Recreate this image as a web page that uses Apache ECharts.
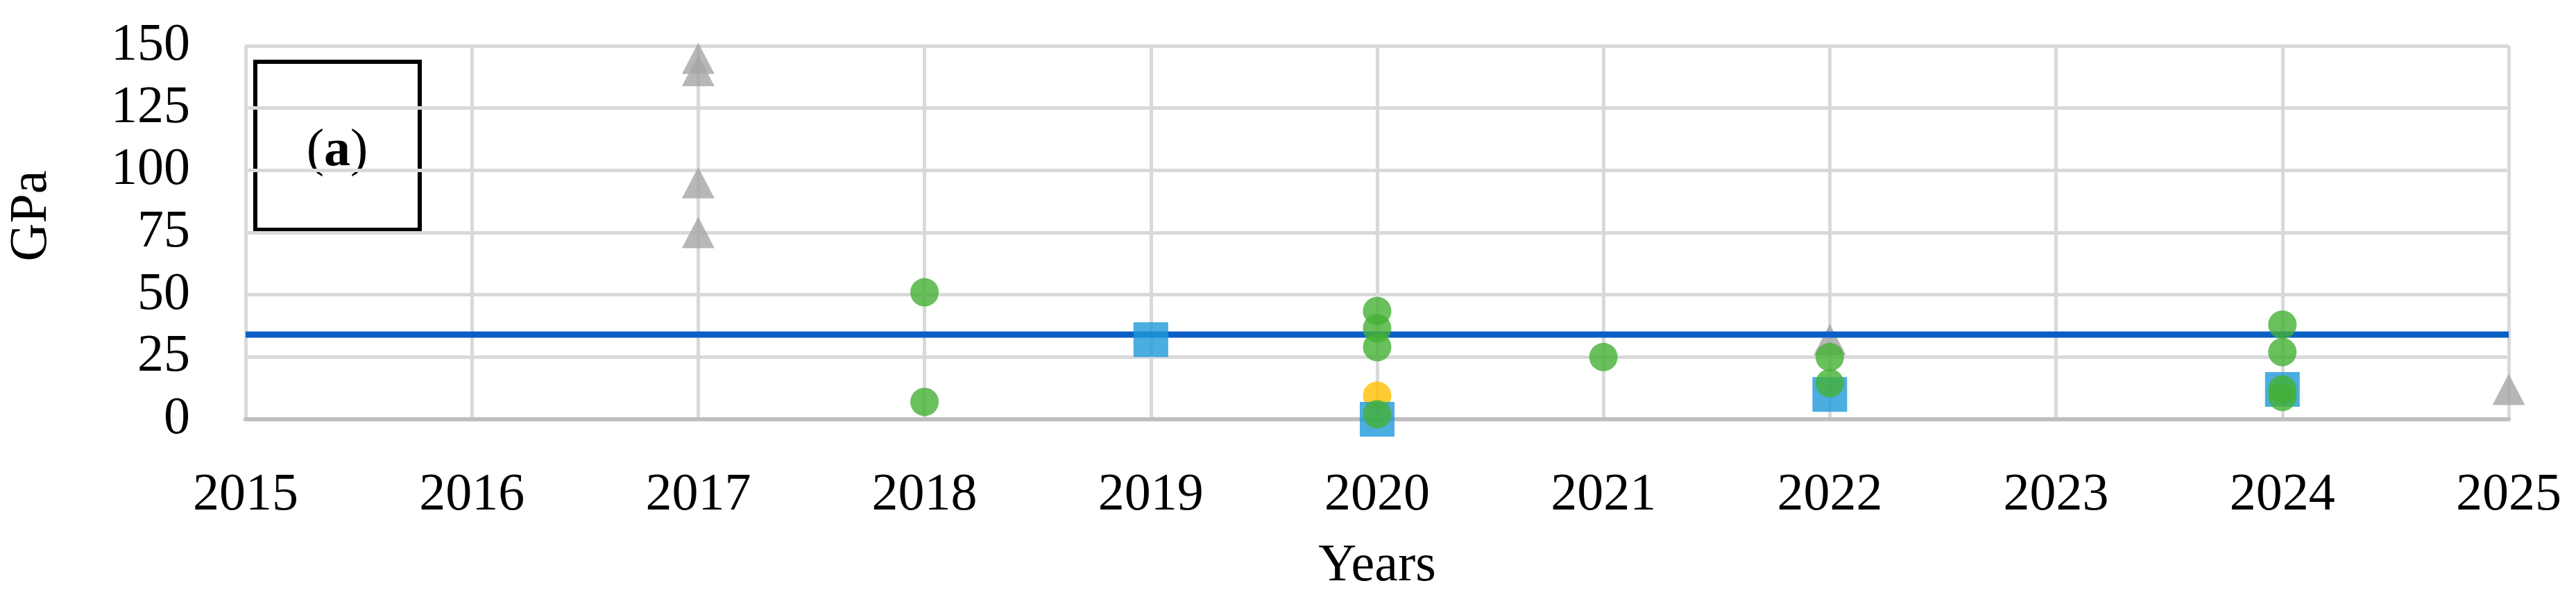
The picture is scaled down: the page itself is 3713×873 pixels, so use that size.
<!DOCTYPE html>
<html>
<head>
<meta charset="utf-8">
<script src="https://cdn.jsdelivr.net/npm/echarts@6/dist/echarts.min.js"></script>
<style>
  html, body { margin: 0; padding: 0; background: #ffffff; }
  #chart { width: 3713px; height: 873px; }
</style>
</head>
<body>
<div id="chart"></div>
<script>
// ---- data ----
var xTicks = [2015, 2016, 2017, 2018, 2019, 2020, 2021, 2022, 2023, 2024, 2025];
var yTicks = [0, 25, 50, 75, 100, 125, 150];

var triangleYears  = [2017, 2017, 2017, 2017, 2022, 2025];
var triangleValues = [145, 140, 95, 75, 32, 12];

var greenYears  = [2018, 2018, 2020, 2020, 2020, 2020, 2021, 2022, 2022, 2024, 2024, 2024, 2024];
var greenValues = [51, 7, 43.5, 36.5, 29, 2, 25, 25, 14.5, 38, 27, 12, 9];

var yellowYears  = [2020];
var yellowValues = [9.5];

var squareYears  = [2019, 2020, 2022, 2024];
var squareValues = [32, 0, 10, 12];

var refLineYears  = [2015, 2025];
var refLineValues = [34, 34];

function pairs(xs, ys) { return xs.map(function (x, i) { return [x, ys[i]]; }); }

var FONT = 'Liberation Serif';

var chart = echarts.init(document.getElementById('chart'), null, { renderer: 'canvas' });
chart.setOption({
  animation: false,
  backgroundColor: '#ffffff',
  grid: { left: 350, right: 97, top: 66, bottom: 269, containLabel: false },
  xAxis: {
    type: 'value',
    min: xTicks[0],
    max: xTicks[xTicks.length - 1],
    interval: 1,
    name: 'Years',
    nameLocation: 'middle',
    nameGap: 174,
    nameTextStyle: { fontFamily: FONT, fontSize: 76, color: '#000000' },
    axisLine: { show: true, lineStyle: { color: '#bfbfbf', width: 6 } },
    axisTick: { show: false },
    axisLabel: { margin: 72, fontFamily: FONT, fontSize: 76, color: '#000000', formatter: function (v) { return String(v); } },
    splitLine: { show: true, lineStyle: { color: '#d9d9d9', width: 5 } }
  },
  yAxis: {
    type: 'value',
    min: yTicks[0],
    max: yTicks[yTicks.length - 1],
    interval: 25,
    name: 'GPa',
    nameLocation: 'middle',
    nameGap: 270,
    nameTextStyle: { fontFamily: FONT, fontSize: 76, color: '#000000', padding: [0, 0, 0, 48] },
    axisLine: { show: false },
    axisTick: { show: false },
    axisLabel: { margin: 80, fontFamily: FONT, fontSize: 76, color: '#000000' },
    splitLine: { show: true, lineStyle: { color: '#d9d9d9', width: 5 } }
  },
  series: [
    {
      type: 'scatter', name: 'triangles', z: 2,
      symbol: 'triangle', symbolSize: [47, 45],
      itemStyle: { color: '#a5a5a5' },
      data: pairs(triangleYears, triangleValues)
    },
    {
      type: 'line', name: 'reference', z: 3,
      showSymbol: false, symbol: 'none',
      lineStyle: { color: '#0a5fc6', width: 9 },
      data: pairs(refLineYears, refLineValues)
    },
    {
      type: 'scatter', name: 'yellow', z: 4,
      symbol: 'circle', symbolSize: 41,
      itemStyle: { color: '#ffc000' },
      data: pairs(yellowYears, yellowValues)
    },
    {
      type: 'scatter', name: 'squares', z: 5,
      symbol: 'rect', symbolSize: 50,
      itemStyle: { color: '#1e98d8' },
      data: pairs(squareYears, squareValues)
    },
    {
      type: 'scatter', name: 'green', z: 6,
      symbol: 'circle', symbolSize: 41,
      itemStyle: { color: '#44b035' },
      data: pairs(greenYears, greenValues)
    }
  ],
  graphic: [
    {
      type: 'group', z: 10,
      children: [
        {
          type: 'rect',
          shape: { x: 368, y: 89, width: 237, height: 242 },
          style: { fill: '#ffffff', stroke: '#000000', lineWidth: 6 }
        },
        {
          type: 'text',
          x: 486, y: 218,
          style: {
            text: '({b|a})',
            fontFamily: FONT, fontSize: 76, fill: '#000000',
            align: 'center', verticalAlign: 'middle',
            rich: { b: { fontFamily: FONT, fontSize: 76, fontWeight: 'bold', fill: '#000000' } }
          }
        }
      ]
    }
  ]
});
</script>
</body>
</html>
